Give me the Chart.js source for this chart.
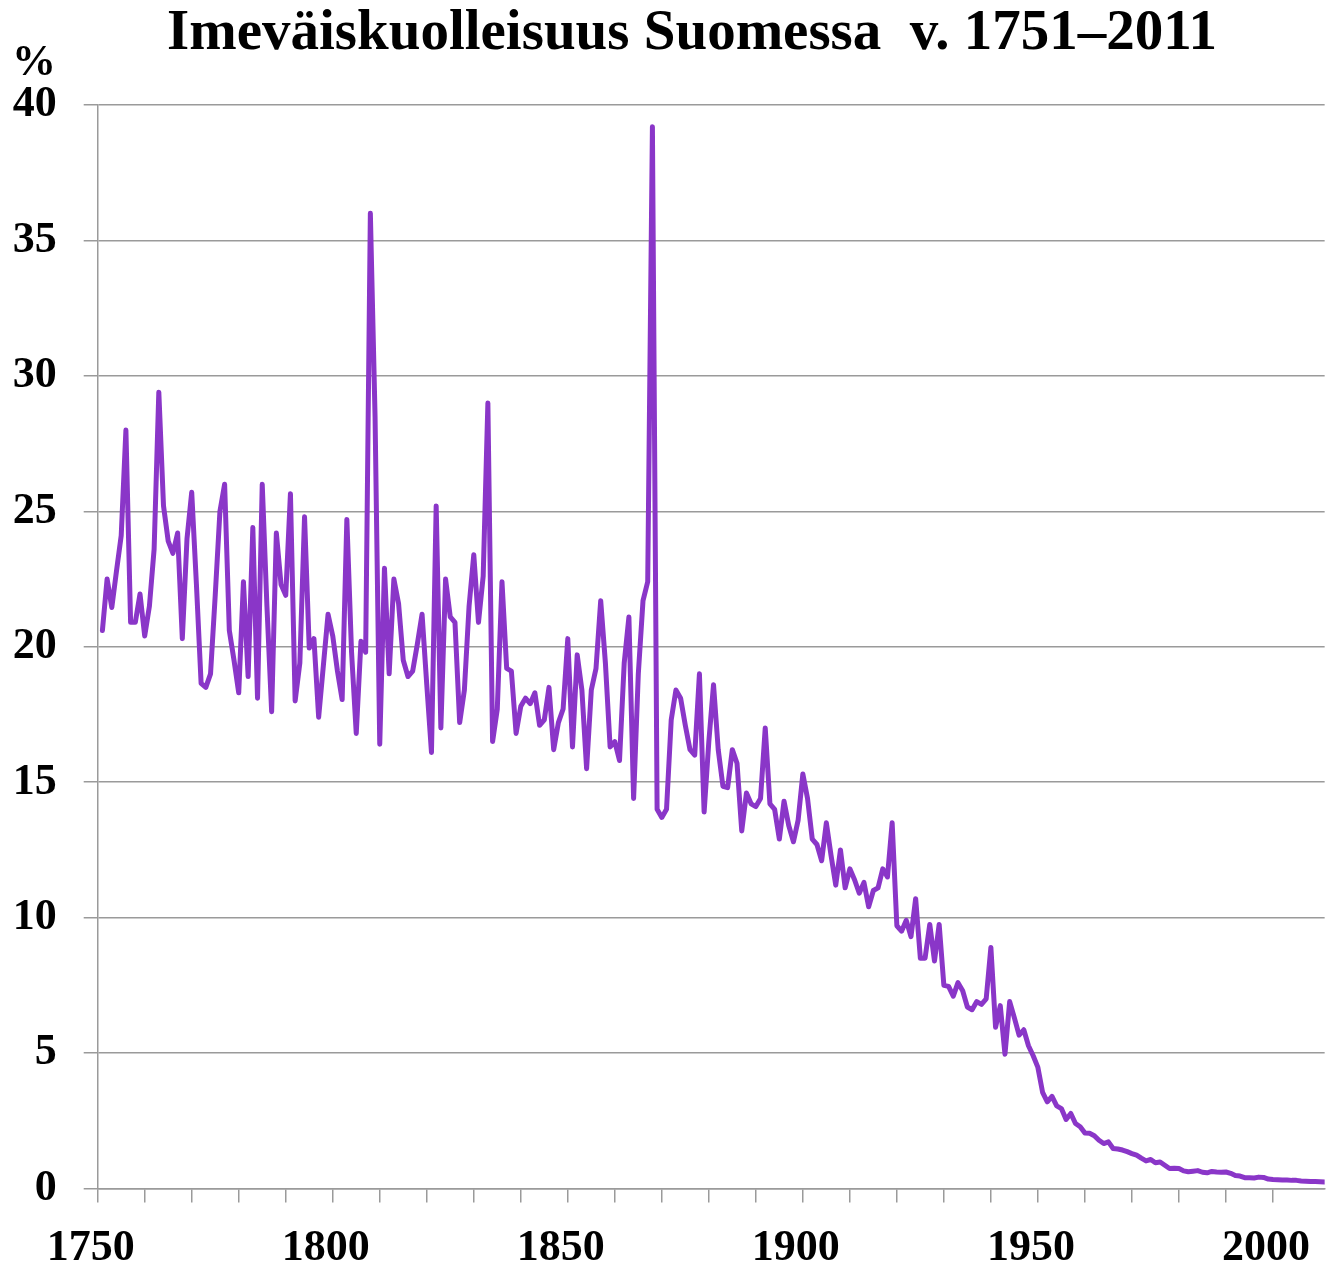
<!DOCTYPE html>
<html lang="fi">
<head>
<meta charset="utf-8">
<title>Imeväiskuolleisuus Suomessa v. 1751–2011</title>
<script src="https://cdn.jsdelivr.net/npm/chart.js@4.4.1/dist/chart.umd.min.js"></script>
<style>
    html, body { margin: 0; padding: 0; background: #fff; }
    #wrap { width: 1337px; height: 1275px; position: relative; }
</style>
</head>
<body>
<div id="wrap"><canvas id="chart"></canvas></div>
<script>
// Infant mortality in Finland, % of live births, one value per year from 1751
const firstYear = 1751;
const infantMortality = [
    20.6, 22.5, 21.45, 22.8, 24.1, 28.0, 20.9, 20.9, 21.95, 20.4,   // 1751-1760
    21.5, 23.6, 29.4, 25.2, 23.9, 23.45, 24.2, 20.3, 24.0, 25.7,    // 1761-1770
    22.3, 18.65, 18.5, 19.0, 21.9, 25.0, 26.0, 20.6, 19.5, 18.3,    // 1771-1780
    22.4, 18.9, 24.4, 18.1, 26.0, 21.5, 17.6, 24.2, 22.3, 21.9,     // 1781-1790
    25.65, 18.0, 19.4, 24.8, 19.95, 20.3, 17.4, 19.3, 21.2, 20.4,   // 1791-1800
    19.1, 18.05, 24.7, 19.8, 16.8, 20.2, 19.8, 36.0, 28.5, 16.4,    // 1801-1810
    22.9, 19.0, 22.5, 21.6, 19.5, 18.9, 19.1, 20.1, 21.2, 18.6,     // 1811-1820
    16.1, 25.2, 17.0, 22.5, 21.1, 20.9, 17.2, 18.4, 21.5, 23.4,     // 1821-1830
    20.9, 22.6, 29.0, 16.5, 17.7, 22.4, 19.2, 19.1, 16.8, 17.8,     // 1831-1840
    18.1, 17.9, 18.3, 17.1, 17.3, 18.5, 16.2, 17.2, 17.7, 20.3,     // 1841-1850
    16.3, 19.7, 18.4, 15.5, 18.4, 19.2, 21.7, 19.4, 16.3, 16.5,     // 1851-1860
    15.8, 19.4, 21.1, 14.4, 19.0, 21.7, 22.4, 39.2, 14.0, 13.7,     // 1861-1870
    14.0, 17.3, 18.4, 18.1, 17.1, 16.2, 16.0, 19.0, 13.9, 16.5,     // 1871-1880
    18.6, 16.2, 14.85, 14.8, 16.2, 15.7, 13.2, 14.6, 14.2, 14.1,    // 1881-1890
    14.4, 17.0, 14.2, 14.0, 12.9, 14.3, 13.4, 12.8, 13.6, 15.3,     // 1891-1900
    14.4, 12.9, 12.7, 12.1, 13.5, 12.3, 11.2, 12.5, 11.1, 11.8,     // 1901-1910
    11.4, 10.9, 11.3, 10.4, 11.0, 11.1, 11.8, 11.5, 13.5, 9.7,      // 1911-1920
    9.5, 9.9, 9.3, 10.7, 8.5, 8.5, 9.75, 8.4, 9.75, 7.5,            // 1921-1930
    7.46, 7.1, 7.6, 7.3, 6.7, 6.6, 6.9, 6.8, 7.0, 8.9,              // 1931-1940
    5.95, 6.75, 4.96, 6.9, 6.3, 5.66, 5.86, 5.27, 4.9, 4.47,        // 1941-1950
    3.55, 3.2, 3.4, 3.05, 2.95, 2.55, 2.77, 2.4, 2.28, 2.05,        // 1951-1960
    2.04, 1.95, 1.78, 1.66, 1.72, 1.48, 1.46, 1.42, 1.36, 1.29,     // 1961-1970
    1.23, 1.12, 1.02, 1.07, 0.95, 0.98, 0.86, 0.74, 0.75, 0.74,     // 1971-1980
    0.65, 0.62, 0.64, 0.66, 0.6, 0.58, 0.63, 0.61, 0.6, 0.61,       // 1981-1990
    0.56, 0.48, 0.46, 0.4, 0.4, 0.39, 0.42, 0.41, 0.35, 0.33,       // 1991-2000
    0.32, 0.31, 0.31, 0.3, 0.3, 0.28, 0.27, 0.26, 0.26, 0.25, 0.24  // 2001-2011
];
const years = infantMortality.map((_, i) => firstYear + i);

// Axis ticks
const yTicks = [0, 5, 10, 15, 20, 25, 30, 35, 40];
const xLabelYears = [1750, 1800, 1850, 1900, 1950, 2000];

const chartTitle = 'Imeväiskuolleisuus Suomessa  v. 1751–2011';
const unitLabel = '%';

const serif = "'Liberation Serif', 'Times New Roman', serif";
const gridGrey = '#9a9a9a';
const lineColor = '#8a36c8';

// Title and unit text above the plot
const headerPlugin = {
    id: 'header',
    afterDraw(chart) {
        const ctx = chart.ctx;
        ctx.save();
        ctx.fillStyle = '#000';
        ctx.textBaseline = 'alphabetic';
        ctx.textAlign = 'center';
        ctx.font = 'bold 57px ' + serif;
        ctx.fillText(chartTitle, 692, 49);
        ctx.font = 'bold 44px ' + serif;
        ctx.fillText(unitLabel, 34, 75);
        ctx.restore();
    }
};

const ctx = document.getElementById('chart').getContext('2d');
const chart = new Chart(ctx, {
    type: 'line',
    data: {
        datasets: [{
            label: 'Imeväiskuolleisuus',
            data: years.map((y, i) => ({ x: y, y: infantMortality[i] })),
            borderColor: lineColor,
            backgroundColor: lineColor,
            borderWidth: 5,
            pointRadius: 0,
            tension: 0,
            borderJoinStyle: 'round',
            borderCapStyle: 'round'
        }]
    },
    options: {
        responsive: true,
        maintainAspectRatio: false,
        animation: false,
        layout: { padding: { top: 105, right: 1.5, left: 0, bottom: 0 } },
        plugins: {
            legend: { display: false },
            title: { display: false },
            tooltip: { enabled: false }
        },
        scales: {
            x: {
                type: 'linear',
                min: 1750,
                max: 2011,
                afterFit(scale) { scale.height = 86.5; },
                afterBuildTicks(scale) {
                    // tick marks every ten years
                    scale.ticks = scale.ticks.filter(t => t.value % 10 === 0);
                },
                ticks: {
                    stepSize: 10,
                    autoSkip: false,
                    maxRotation: 0,
                    padding: 20,
                    labelOffset: -7,
                    color: '#000',
                    font: { family: serif, size: 44, weight: 'bold' },
                    callback: v => xLabelYears.includes(v) ? String(v) : ''
                },
                grid: {
                    drawOnChartArea: false,
                    drawTicks: true,
                    tickLength: 14,
                    color: gridGrey,
                    lineWidth: 1.5
                },
                border: { display: true, color: gridGrey, width: 1.5 }
            },
            y: {
                min: 0,
                max: 40,
                afterFit(scale) { scale.width = 97.7; },
                afterBuildTicks(scale) {
                    scale.ticks = yTicks.map(v => ({ value: v }));
                },
                ticks: {
                    padding: 27,
                    color: '#000',
                    font: { family: serif, size: 44, weight: 'bold' }
                },
                grid: {
                    color: gridGrey,
                    lineWidth: 1.5,
                    tickLength: 14
                },
                border: { display: true, color: gridGrey, width: 1.5 }
            }
        }
    },
    plugins: [headerPlugin]
});
</script>
</body>
</html>
